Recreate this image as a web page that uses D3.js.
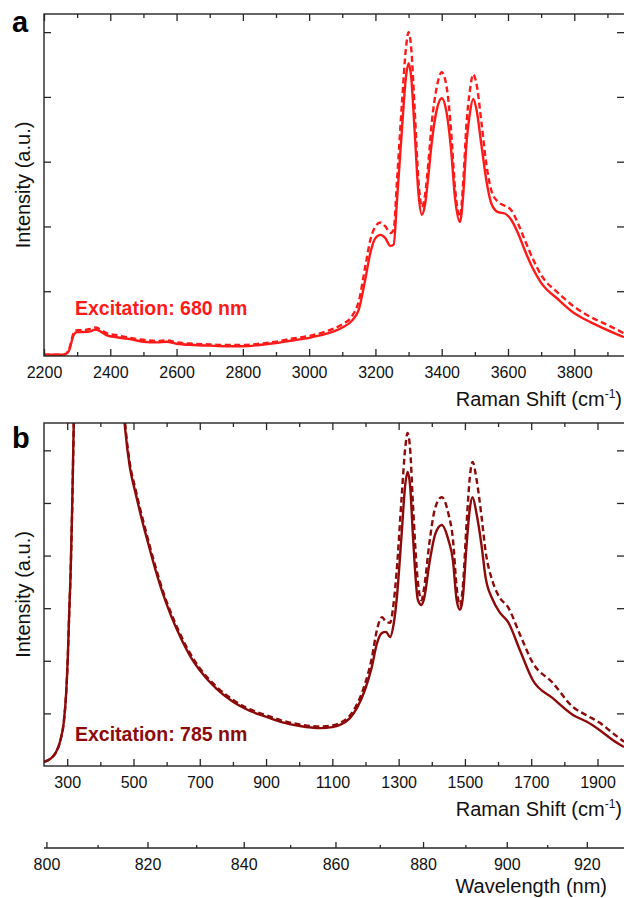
<!DOCTYPE html>
<html>
<head>
<meta charset="utf-8">
<script src="https://cdn.jsdelivr.net/npm/d3@7"></script>
<style>
  body { margin: 0; background: #fff; }
  svg { display: block; font-family: "Liberation Sans", Arial, sans-serif; }
</style>
</head>
<body>
<svg id="chart" width="624" height="898"></svg>
<script>
// ---- panel a : 680 nm excitation ----
const shiftA = [2200, 2260, 2275, 2290, 2300, 2320, 2340, 2355, 2370, 2390, 2420, 2460, 2500, 2540, 2570, 2600,
  2650, 2700, 2750, 2800, 2850, 2900, 2950, 3000, 3050, 3100, 3130, 3150, 3170, 3185, 3200, 3215, 3230, 3245,
  3255, 3265, 3280, 3292, 3300, 3308, 3318, 3330, 3340, 3350, 3360, 3370, 3385, 3400, 3415, 3428, 3440, 3455,
  3465, 3475, 3485, 3495, 3505, 3520, 3535, 3550, 3570, 3590, 3610, 3630, 3650, 3675, 3700, 3750, 3800, 3850,
  3900, 3950];
const solidA = [0.02, 0.02, 0.08, 0.33, 0.37, 0.37, 0.38, 0.41, 0.38, 0.32, 0.29, 0.26, 0.22, 0.21, 0.22, 0.19,
  0.17, 0.16, 0.15, 0.15, 0.17, 0.2, 0.24, 0.28, 0.34, 0.44, 0.55, 0.72, 1.2, 1.6, 1.82, 1.87, 1.82, 1.7,
  1.72, 2.4, 3.5, 4.3, 4.52, 4.3, 3.5, 2.5, 2.18, 2.35, 2.8, 3.3, 3.8, 3.98, 3.75, 3.2, 2.45, 2.07,
  2.5, 3.3, 3.75, 3.97, 3.8, 3.25, 2.7, 2.35, 2.22, 2.2, 2.1, 1.9, 1.64, 1.35, 1.13, 0.88, 0.66, 0.52,
  0.4, 0.29];
const dashedA = [0.02, 0.02, 0.1, 0.36, 0.4, 0.4, 0.42, 0.44, 0.41, 0.35, 0.32, 0.28, 0.25, 0.23, 0.24, 0.21,
  0.19, 0.18, 0.17, 0.17, 0.19, 0.22, 0.27, 0.31, 0.38, 0.49, 0.62, 0.85, 1.4, 1.8, 2.0, 2.06, 2.0, 1.9,
  1.95, 2.7, 3.9, 4.75, 5.0, 4.75, 3.85, 2.7, 2.3, 2.5, 3.0, 3.6, 4.15, 4.38, 4.15, 3.5, 2.6, 2.15,
  2.7, 3.6, 4.1, 4.35, 4.2, 3.6, 2.95, 2.55, 2.38, 2.32, 2.25, 2.05, 1.8, 1.5, 1.25, 0.98, 0.76, 0.6,
  0.48, 0.35];
const majorTicksA = [2200, 2400, 2600, 2800, 3000, 3200, 3400, 3600, 3800];
const minorTicksA = [2300, 2500, 2700, 2900, 3100, 3300, 3500, 3700, 3900];
const yTicksA = [1, 2, 3, 4, 5];

// ---- panel b : 785 nm excitation ----
const shiftB = [230, 250, 265, 280, 290, 297, 302, 306, 310, 315, 320, 325, 340, 400, 450, 465, 475, 489, 505,
  520, 535, 550, 570, 589, 615, 640, 670, 700, 750, 800, 850, 903, 950, 1002, 1063, 1100, 1123, 1153, 1174,
  1198, 1219, 1235, 1250, 1262, 1274, 1285, 1294, 1309, 1320, 1327, 1335, 1343, 1358, 1369, 1376, 1394, 1410,
  1430, 1450, 1464, 1475, 1485, 1493, 1505, 1515, 1523, 1535, 1550, 1562, 1584, 1605, 1630, 1666, 1705, 1765,
  1826, 1868, 1907, 1947, 1980];
const solidB = [0.08, 0.14, 0.25, 0.5, 0.85, 1.4, 2.1, 2.9, 3.6, 4.9, 6.6, 8.5, 11, 12, 9.5, 7.2, 6.4, 5.68, 5.22,
  4.82, 4.45, 4.1, 3.65, 3.27, 2.83, 2.47, 2.1, 1.82, 1.47, 1.22, 1.05, 0.93, 0.83, 0.76, 0.72, 0.74, 0.78, 0.91, 1.1,
  1.44, 1.88, 2.34, 2.53, 2.55, 2.45, 2.7, 3.16, 4.4, 5.35, 5.59, 5.3, 4.4, 3.16, 3.06, 3.16, 3.9, 4.4,
  4.58, 4.3, 3.9, 3.16, 2.97, 3.16, 4.2, 4.9, 5.11, 4.8, 4.2, 3.6, 3.16, 2.92, 2.74, 2.2, 1.63, 1.29,
  0.97, 0.84, 0.68, 0.49, 0.36];
const dashedB = [0.08, 0.14, 0.25, 0.5, 0.85, 1.4, 2.1, 2.9, 3.6, 4.9, 6.6, 8.5, 11, 12, 9.6, 7.3, 6.5, 5.75, 5.29,
  4.89, 4.52, 4.16, 3.71, 3.32, 2.88, 2.52, 2.15, 1.86, 1.51, 1.26, 1.08, 0.96, 0.86, 0.79, 0.75, 0.77, 0.82, 0.96, 1.17,
  1.55, 2.05, 2.6, 2.83, 2.74, 2.72, 3.1, 3.7, 5.1, 6.05, 6.33, 6.0, 5.0, 3.5, 3.15, 3.35, 4.3, 4.9,
  5.11, 4.8, 4.3, 3.4, 3.05, 3.35, 4.6, 5.5, 5.78, 5.45, 4.75, 4.1, 3.5, 3.2, 3.02, 2.5, 1.96, 1.58,
  1.12, 0.96, 0.82, 0.62, 0.46];
const majorTicksB = [300, 500, 700, 900, 1100, 1300, 1500, 1700, 1900];
const minorTicksB = [400, 600, 800, 1000, 1200, 1400, 1600, 1800];
const yTicksB = [1, 2, 3, 4, 5, 6];

// ---- wavelength axis (785 nm laser) ----
const laserNm = 785;
const majorWavelengths = [800, 820, 840, 860, 880, 900, 920];
const minorWavelengths = [810, 830, 850, 870, 890, 910];

const svg = d3.select("#chart");
const axisColor = "#262626";
const left = 44, right = 624;

function drawPanel(p) {
  const x = d3.scaleLinear().domain(p.xDomain).range([left, right]);
  const y = d3.scaleLinear().domain(p.yDomain).range([p.bottom, p.top]);
  const g = svg.append("g");

  const clipId = "clip-" + p.name;
  g.append("clipPath").attr("id", clipId)
    .append("rect").attr("x", left).attr("y", p.top).attr("width", right - left).attr("height", p.bottom - p.top);

  const line = d3.line().x(d => x(d[0])).y(d => y(d[1])).curve(d3.curveMonotoneX);
  const plot = g.append("g").attr("clip-path", `url(#${clipId})`);
  plot.append("path").datum(d3.zip(p.xs, p.solid))
    .attr("d", line).attr("fill", "none").attr("stroke", p.color).attr("stroke-width", 2.4)
    .attr("stroke-linejoin", "round");
  plot.append("path").datum(d3.zip(p.xs, p.dashed))
    .attr("d", line).attr("fill", "none").attr("stroke", p.color).attr("stroke-width", 2.4)
    .attr("stroke-dasharray", "6,3.5");

  const noDomain = s => s.select(".domain").remove();
  // bottom axis with labels, ticks pointing in
  g.append("g").attr("transform", `translate(0,${p.bottom})`)
    .call(d3.axisBottom(x).tickValues(p.major).tickSize(-7).tickPadding(11).tickFormat(d3.format("d")))
    .call(noDomain)
    .call(s => s.selectAll("text").attr("font-size", 16).attr("fill", "#111").attr("font-family", null));
  g.append("g").attr("transform", `translate(0,${p.bottom})`)
    .call(d3.axisBottom(x).tickValues(p.minor).tickSize(-4).tickFormat(""))
    .call(noDomain);
  g.append("g").attr("transform", `translate(0,${p.top})`)
    .call(d3.axisTop(x).tickValues(p.major).tickSize(-7).tickFormat(""))
    .call(noDomain);
  g.append("g").attr("transform", `translate(0,${p.top})`)
    .call(d3.axisTop(x).tickValues(p.minor).tickSize(-4).tickFormat(""))
    .call(noDomain);
  g.append("g").attr("transform", `translate(${left},0)`)
    .call(d3.axisLeft(y).tickValues(p.yTicks).tickSize(-7).tickFormat(""))
    .call(noDomain);
  g.append("g").attr("transform", `translate(${right},0)`)
    .call(d3.axisRight(y).tickValues(p.yTicks).tickSize(-7).tickFormat(""))
    .call(noDomain);
  g.selectAll(".tick line").attr("stroke", axisColor).attr("stroke-width", 1.3);

  g.append("rect").attr("x", left).attr("y", p.top)
    .attr("width", right - left + 1).attr("height", p.bottom - p.top)
    .attr("fill", "none").attr("stroke", axisColor).attr("stroke-width", 1.4);

  // axis titles
  const xt = g.append("text").attr("x", right - 2).attr("y", p.bottom + 50)
    .attr("text-anchor", "end").attr("font-size", 20).attr("fill", "#111")
    .text("Raman Shift (cm");
  xt.append("tspan").attr("font-size", 12).attr("dy", -8).text("-1");
  xt.append("tspan").attr("dy", 8).text(")");

  g.append("text")
    .attr("transform", `translate(30,${(p.top + p.bottom) / 2}) rotate(-90)`)
    .attr("text-anchor", "middle").attr("font-size", 20).attr("fill", "#111")
    .text("Intensity (a.u.)");

  g.append("text").attr("x", 12).attr("y", p.top + p.letterDy)
    .attr("font-size", 29).attr("font-weight", "bold").attr("fill", "#000").text(p.name);

  g.append("text").attr("x", 75).attr("y", p.labelY)
    .attr("font-size", 19.5).attr("font-weight", "bold").attr("fill", p.color)
    .text(p.label);

  return x;
}

drawPanel({
  name: "a", xs: shiftA, solid: solidA, dashed: dashedA,
  xDomain: [2200, 3950], yDomain: [0, 5.28], top: 14, bottom: 356,
  major: majorTicksA, minor: minorTicksA, yTicks: yTicksA,
  color: "#ff1a1a", label: "Excitation: 680 nm", labelY: 315, letterDy: 18
});

const xB = drawPanel({
  name: "b", xs: shiftB, solid: solidB, dashed: dashedB,
  xDomain: [230, 1980], yDomain: [0, 6.52], top: 423, bottom: 766,
  major: majorTicksB, minor: minorTicksB, yTicks: yTicksB,
  color: "#8c0a0a", label: "Excitation: 785 nm", labelY: 741, letterDy: 25
});

// wavelength axis: position each wavelength at its Raman shift from the 785 nm line
const toShift = nm => 1e7 / laserNm - 1e7 / nm;
const xW = d3.scaleLinear()
  .domain(xB.domain().map(s => 1e7 / (1e7 / laserNm - s)))
  .range(xB.range());
const wl = svg.append("g").attr("transform", "translate(0,848)");
const wlMajor = d3.axisBottom(xW).tickValues(majorWavelengths).tickSize(-6).tickPadding(11).tickFormat(d3.format("d"));
wl.call(wlMajor);
wl.selectAll(".tick").attr("transform", d => `translate(${xB(toShift(d))},0)`);
wl.select(".domain").remove();
wl.selectAll("text").attr("font-size", 16).attr("fill", "#111");
const wlMinor = svg.append("g").attr("transform", "translate(0,848)");
wlMinor.call(d3.axisBottom(xW).tickValues(minorWavelengths).tickSize(-3).tickFormat(""));
wlMinor.selectAll(".tick").attr("transform", d => `translate(${xB(toShift(d))},0)`);
wlMinor.select(".domain").remove();
svg.selectAll("g .tick line").attr("stroke", axisColor).attr("stroke-width", 1.3);
svg.append("line").attr("x1", left).attr("x2", right).attr("y1", 848).attr("y2", 848)
  .attr("stroke", axisColor).attr("stroke-width", 1.4);
svg.append("text").attr("x", 607).attr("y", 893).attr("text-anchor", "end")
  .attr("font-size", 20).attr("fill", "#111").text("Wavelength (nm)");
</script>
</body>
</html>
